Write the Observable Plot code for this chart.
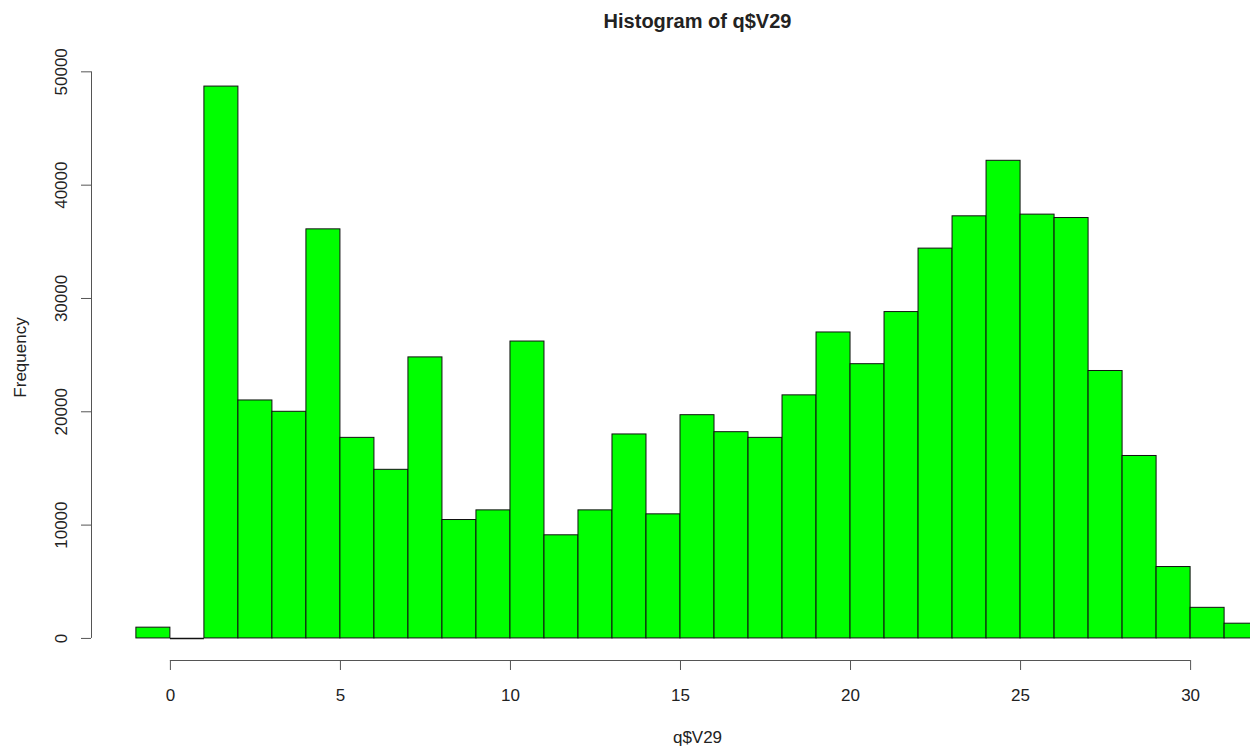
<!DOCTYPE html>
<html>
<head>
<meta charset="utf-8">
<script src="https://cdn.jsdelivr.net/npm/d3@7"></script>
<script src="https://cdn.jsdelivr.net/npm/@observablehq/plot@0.6"></script>
<style>
  html, body { margin: 0; padding: 0; background: #fff; overflow: hidden; }
  #chart svg { overflow: hidden; display: block; }
</style>
</head>
<body>
<div id="chart"></div>
<script>
// Histogram bin edges (width 1) and counts
const binStarts = [-1,0,1,2,3,4,5,6,7,8,9,10,11,12,13,14,15,16,17,18,19,20,21,22,23,24,25,26,27,28,29,30,31];
const counts = [950,0,48700,21000,20000,36100,17700,14880,24800,10450,11300,26200,9100,11300,18000,10950,19700,18200,17700,21450,27000,24200,28800,34400,37250,42150,37400,37100,23600,16100,6300,2700,1300];
const xTicks = [0,5,10,15,20,25,30];
const yTicks = [0,10000,20000,30000,40000,50000];
const titleText = "Histogram of q$V29";
const xLabel = "q$V29";
const yLabel = "Frequency";

const bins = binStarts.map((s, i) => ({x1: s, x2: s + 1, count: counts[i]}));

// R-style 4% axis padding
const bMin = d3.min(binStarts), bMax = d3.max(binStarts) + 1;
const xPad = 0.04 * (bMax - bMin);
const xDomain = [bMin - xPad, bMax + xPad];
const cMax = d3.max(counts);
const yDomain = [-0.04 * cMax, 1.04 * cMax];
const xMid = (xDomain[0] + xDomain[1]) / 2;

const font = "'Liberation Sans', Arial, Helvetica, sans-serif";
const axisColor = "#555";
const textColor = "#222";

const plot = Plot.plot({
  width: 1250,
  height: 747,
  marginTop: 64,
  marginBottom: 87,
  marginLeft: 91,
  marginRight: 0,
  style: {fontFamily: font, fontSize: "17px", color: textColor, background: "#fff"},
  x: {domain: xDomain, range: [91, 1303]},
  y: {domain: yDomain},
  marks: [
    Plot.rectY(bins, {x1: "x1", x2: "x2", y: "count", fill: "#00ff00", stroke: "#111", strokeWidth: 1}),
    // empty bins still show their border as a flat line
    Plot.ruleY(bins.filter(d => d.count === 0), {x1: "x1", x2: "x2", y: "count", stroke: "#111", strokeWidth: 1.5}),
    // axis lines (R draws them from first to last tick)
    Plot.ruleY([yDomain[0]], {x1: xTicks[0], x2: xTicks[xTicks.length - 1], stroke: axisColor}),
    Plot.ruleX([xDomain[0]], {y1: yTicks[0], y2: yTicks[yTicks.length - 1], stroke: axisColor}),
    // tick marks
    Plot.axisX({ticks: xTicks, tickSize: 10, stroke: axisColor, fill: "none", label: null}),
    Plot.axisY({ticks: yTicks, tickSize: 10, stroke: axisColor, fill: "none", label: null}),
    // tick labels
    Plot.text(xTicks, {x: d => d, text: d => String(d), frameAnchor: "bottom", dy: 35, lineAnchor: "middle", fill: textColor, fontSize: 17}),
    Plot.text(yTicks, {y: d => d, text: d => String(d), frameAnchor: "left", dx: -30, rotate: -90, textAnchor: "middle", lineAnchor: "middle", fill: textColor, fontSize: 17}),
    // titles
    Plot.text([titleText], {x: () => xMid, text: d => d, frameAnchor: "top", dy: -43, lineAnchor: "middle", fontWeight: "bold", fontSize: 20, fill: textColor}),
    Plot.text([xLabel], {x: () => xMid, text: d => d, frameAnchor: "bottom", dy: 77, lineAnchor: "middle", fontSize: 17, fill: textColor}),
    Plot.text([yLabel], {text: d => d, frameAnchor: "left", dx: -71, dy: -5, rotate: -90, textAnchor: "middle", lineAnchor: "middle", fontSize: 17, fill: textColor})
  ]
});
document.getElementById("chart").appendChild(plot);
</script>
</body>
</html>
